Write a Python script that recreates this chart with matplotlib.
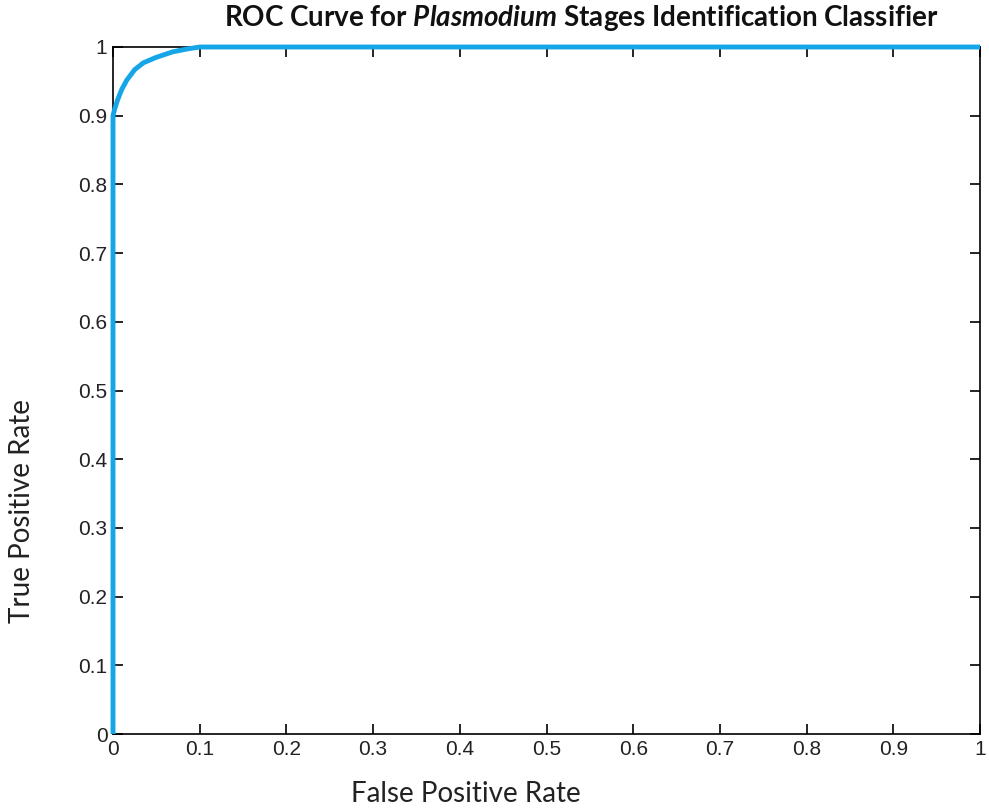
import matplotlib.pyplot as plt
import numpy as np

# ROC curve points
FPR = [0.0, 0.0, 0.002, 0.005, 0.010, 0.016, 0.025, 0.035, 0.050, 0.069, 0.085, 0.100, 1.0]
TPR = [0.0, 0.900, 0.910, 0.922, 0.938, 0.952, 0.967, 0.977, 0.985, 0.993, 0.997, 1.0, 1.0]

TICKS = np.round(np.arange(0, 1.01, 0.1), 1)
TICK_LABELS = ["0", "0.1", "0.2", "0.3", "0.4", "0.5", "0.6", "0.7", "0.8", "0.9", "1"]

plt.rcParams["mathtext.fontset"] = "custom"
plt.rcParams["mathtext.it"] = "Lato:italic:bold"
plt.rcParams["mathtext.rm"] = "Lato:bold"

fig = plt.figure(figsize=(9.89, 8.10), dpi=100)
ax = fig.add_axes([113 / 989, 76 / 810, 867 / 989, 687 / 810])

ax.plot(FPR, TPR, color="#14A6E6", lw=3.5, solid_capstyle="butt", clip_on=False, zorder=3)

ax.set_xlim(0, 1)
ax.set_ylim(0, 1)
ax.set_xticks(TICKS)
ax.set_xticklabels(TICK_LABELS)
ax.set_yticks(TICKS)
ax.set_yticklabels(TICK_LABELS)
ax.tick_params(direction="in", top=True, right=True, length=7, width=1.2,
               labelsize=15, labelcolor="#222222", pad=4)
for lbl in ax.get_xticklabels() + ax.get_yticklabels():
    lbl.set_fontfamily("Liberation Sans")
for sp in ax.spines.values():
    sp.set_linewidth(1.2)

ax.set_xlabel("False Positive Rate", fontsize=20, family="Lato", color="#222222", va="center")
ax.set_ylabel("True Positive Rate", fontsize=20, family="Lato", color="#222222",
              va="center", ha="center")
ax.xaxis.set_label_coords(0.407, -0.0873)
ax.yaxis.set_label_coords(-0.1044, 0.3246)

ax.text(0.54, 1.042, "ROC Curve for $\\it{Plasmodium}$ Stages Identification Classifier",
        transform=ax.transAxes, ha="center", va="center", fontsize=20,
        family="Lato", fontweight="bold", color="#111111")

plt.savefig("out.png", dpi=100)
plt.close()
